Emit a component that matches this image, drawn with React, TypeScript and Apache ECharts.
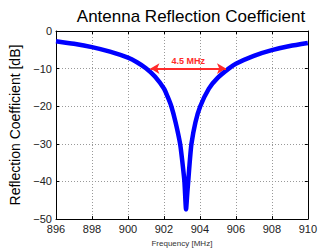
import React, { useEffect, useRef } from "react";
import * as echarts from "echarts";

const freqMHz = [896, 897, 898, 899, 900, 900.5, 901, 901.5, 902, 902.2, 902.41, 902.65, 902.9, 903.03, 903.14, 903.23, 903.3, 903.35, 903.44, 903.53, 903.75, 904.02, 904.5, 905, 905.6, 906, 907, 908, 909, 910];
const reflDb = [-2.7, -3.4, -4.3, -5.5, -7.1, -8.3, -9.9, -12.1, -15.3, -17.4, -20, -24.3, -30, -35, -40, -47.4, -43, -40, -34.5, -30, -24.3, -20, -15.3, -12.4, -10, -8.7, -6.6, -5.1, -4.0, -3.2];
const bandEdges = [901.25, 905.45];
const bandLevel = -10;
const bandLabel = "4.5 MHz";
const xTicks = { min: 896, max: 910, step: 2 };
const yTicks = { min: -50, max: 0, step: 10 };

export default function App() {
  const ref = useRef<HTMLDivElement>(null);
  useEffect(() => {
    if (!ref.current) return;
    const chart = echarts.init(ref.current, null, { renderer: "svg" });
    const font = "Liberation Sans, Arial, Helvetica, sans-serif";
    const minusFmt = (v: number) => (v < 0 ? "\u2212" + Math.abs(v) : String(v));
    const grid = { left: 56, right: 6, top: 31, bottom: 28 };
    chart.setOption({
      animation: false,
      title: {
        text: "Antenna Reflection Coefficient",
        left: 186,
        top: 3,
        textAlign: "center",
        textStyle: { fontFamily: font, fontSize: 17, fontWeight: "normal", color: "#000" },
      },
      grid,
      xAxis: [
        {
          type: "value",
          min: xTicks.min,
          max: xTicks.max,
          interval: xTicks.step,
          name: "Frequency [MHz]",
          nameLocation: "middle",
          nameGap: 16,
          nameTextStyle: { fontFamily: font, fontSize: 8, color: "#333" },
          axisLine: { show: true, onZero: false, lineStyle: { color: "#000", width: 1 } },
          axisTick: { show: true, inside: true, length: 3, lineStyle: { color: "#000" } },
          axisLabel: { fontFamily: font, fontSize: 11, color: "#222", margin: 4 },
          splitLine: { show: true, lineStyle: { color: "#999", type: [1, 2], width: 1 } },
        },
        {
          type: "value",
          position: "top",
          min: xTicks.min,
          max: xTicks.max,
          interval: xTicks.step,
          axisLine: { show: true, onZero: false, lineStyle: { color: "#000", width: 1 } },
          axisTick: { show: true, inside: true, length: 3, lineStyle: { color: "#000" } },
          axisLabel: { show: false },
          splitLine: { show: false },
        },
      ],
      yAxis: [
        {
          type: "value",
          min: yTicks.min,
          max: yTicks.max,
          interval: yTicks.step,
          name: "Reflection Coefficient [dB]",
          nameLocation: "middle",
          nameGap: 27,
          nameTextStyle: { fontFamily: font, fontSize: 14, color: "#000" },
          axisLine: { show: true, onZero: false, lineStyle: { color: "#000", width: 1 } },
          axisTick: { show: true, inside: true, length: 3, lineStyle: { color: "#000" } },
          axisLabel: { fontFamily: font, fontSize: 11, color: "#222", margin: 4, formatter: minusFmt },
          splitLine: { show: true, lineStyle: { color: "#999", type: [1, 2], width: 1 } },
        },
        {
          type: "value",
          position: "right",
          min: yTicks.min,
          max: yTicks.max,
          interval: yTicks.step,
          axisLine: { show: true, onZero: false, lineStyle: { color: "#000", width: 1 } },
          axisTick: { show: true, inside: true, length: 3, lineStyle: { color: "#000" } },
          axisLabel: { show: false },
          splitLine: { show: false },
        },
      ],
      series: [
        {
          type: "line",
          data: freqMHz.map((f, i) => [f, reflDb[i]]),
          showSymbol: false,
          smooth: 0.2,
          lineStyle: { color: "#0000ff", width: 4.5 },
          clip: true,
          markLine: {
            silent: true,
            symbol: ["arrow", "arrow"],
            symbolSize: [8, 9],
            lineStyle: { color: "#ff2a2a", width: 2, type: "solid" },
            label: {
              show: true,
              position: "middle",
              formatter: bandLabel,
              color: "#ff2a2a",
              fontFamily: font,
              fontSize: 9,
              fontWeight: "bold",
              distance: 3,
            },
            data: [[
              { coord: [bandEdges[0], bandLevel] },
              { coord: [bandEdges[1], bandLevel] },
            ]],
          },
        },
      ],
    });
    return () => chart.dispose();
  }, []);
  return (
    <div
      ref={ref}
      style={{ position: "fixed", left: 0, top: 0, width: 320, height: 252, background: "#fff" }}
    />
  );
}
